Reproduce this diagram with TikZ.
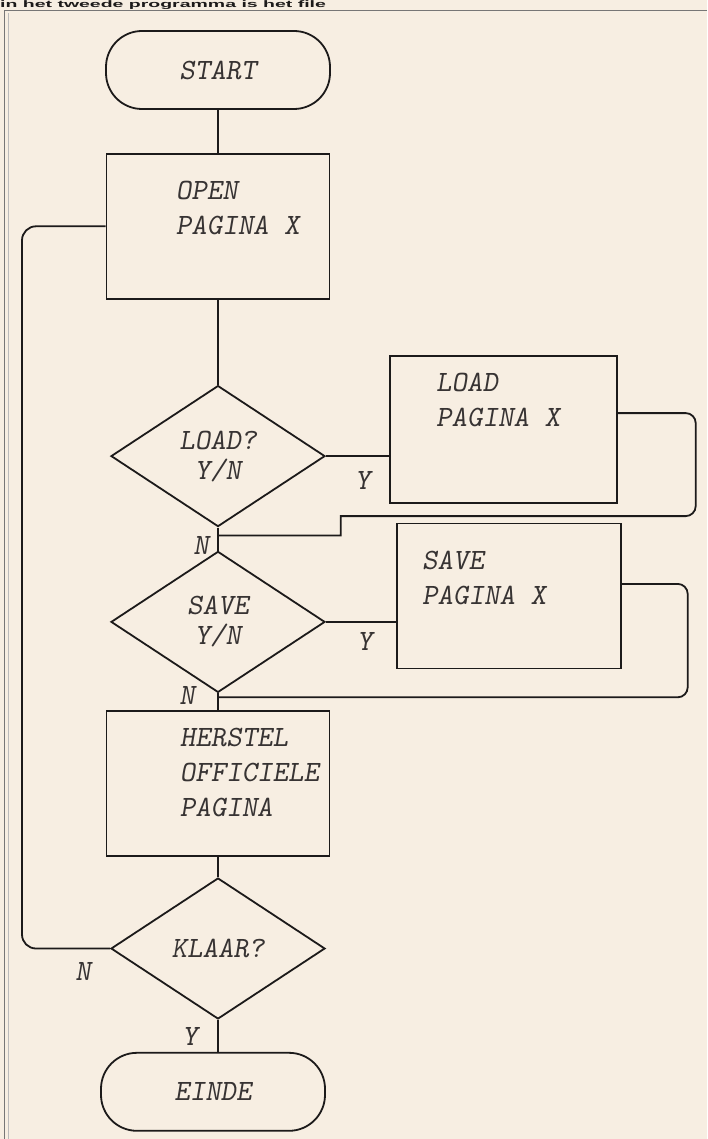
\documentclass[tikz,border=0pt]{standalone}
\usepackage{fontspec}
\usetikzlibrary{positioning,shapes.geometric}
\newfontfamily\headfont{Liberation Sans}
\definecolor{paper}{RGB}{247,238,226}
\definecolor{ink}{RGB}{28,26,26}
\definecolor{pencil}{RGB}{55,51,51}

\begin{document}
\begin{tikzpicture}[
    x=1pt, y=-1pt,
    hand/.style={font=\fontsize{29.5}{35}\selectfont\ttfamily\slshape, text=pencil},
    termbox/.style={rectangle, rounded corners=36pt, draw=ink, line width=1.8pt,
                    minimum width=224pt, minimum height=78pt, inner sep=0pt, hand},
    procbox/.style={rectangle, draw=ink, line width=1.8pt,
                    minimum width=223pt, minimum height=145pt, inner sep=0pt},
    decbox/.style={diamond, aspect=1.5, draw=ink, line width=1.8pt, align=center,
                   minimum width=214pt, minimum height=141pt, inner sep=0pt,
                   text=pencil, font=\fontsize{29.5}{30}\selectfont\ttfamily\slshape},
    boxtext/.style={hand, anchor=north west, align=left, inner sep=0pt},
    yn/.style={hand},
    conn/.style={draw=ink, line width=1.8pt}
]
\useasboundingbox (0,0) rectangle (707,1139);
\fill[paper] (0,0) rectangle (707,1139);
\node[font=\headfont\bfseries\fontsize{9.5}{11}\selectfont, text=ink, anchor=base west, inner sep=0pt] (kop) at (0,7.5) {\scalebox{2.05}[1]{in het tweede programma is het file}};
\draw[ink!60, line width=0.7pt] (4,1139) -- (4,10.5) -- (707,10.5);
\draw[ink!30, line width=0.5pt] (8,1139) -- (8,13);

% hoofdlijn
\node[termbox] (start) at (218,70) {START};
\node[procbox, below=43pt of start] (open) {};
\node[decbox, below=85pt of open] (load) {LOAD?\\Y/N};
\node[decbox, below=23pt of load] (save) {SAVE\\Y/N};
\node[procbox, below=17pt of save] (herstel) {};
\node[decbox, below=20pt of herstel] (klaar) {KLAAR?};
\node[termbox, below=32pt of klaar, xshift=-5pt] (einde) {EINDE};

% zijtakken
\node[procbox, right=63pt of load, yshift=27pt, minimum width=227pt, minimum height=147pt] (loadbox) {};
\node[procbox, right=70pt of save, yshift=26pt, minimum width=224pt] (savebox) {};

% teksten in de blokken
\node[boxtext] (opentxt) at ([xshift=70pt,yshift=-28pt]open.north west) {OPEN\\PAGINA X};
\node[boxtext] (loadtxt) at ([xshift=47pt,yshift=-18pt]loadbox.north west) {LOAD\\PAGINA X};
\node[boxtext] (savetxt) at ([xshift=26pt,yshift=-28pt]savebox.north west) {SAVE\\PAGINA X};
\node[boxtext] (herstxt) at ([xshift=74pt,yshift=-18pt]herstel.north west) {HERSTEL\\OFFICIELE\\PAGINA};

\coordinate[below=8pt of load.south] (jload);
\coordinate[below=4pt of save.south] (jsave);
\coordinate (loopx) at (22,0);

\draw[conn] (start) -- (open);
\draw[conn] (open) -- (load);
\draw[conn] (load) -- (save);
\draw[conn] (save) -- (herstel);
\draw[conn] (herstel) -- (klaar);
\draw[conn] (klaar.south) -- (klaar.south |- einde.north);
\draw[conn] (load.east) -- (load.east -| loadbox.west);
\draw[conn] (save.east) -- (save.east -| savebox.west);
\draw[conn, rounded corners=10pt] ([yshift=16pt]loadbox.east) -- ++(78,0) -- ++(0,103) [sharp corners] -- ++(-355,0) |- (jload);
\draw[conn, rounded corners=10pt] ([yshift=12pt]savebox.east) -- ++(66,0) |- (jsave);
\draw[conn, rounded corners=14pt] (klaar.west) -- (klaar.west -| loopx) -- (open.west -| loopx) -- (open.west);

% labels
\node[yn] (loady) at ([xshift=37pt,yshift=-24pt]load.east) {Y};
\node[yn] (savey) at ([xshift=39pt,yshift=-20pt]save.east) {Y};
\node[yn] (loadn) at ([xshift=-17pt,yshift=-18pt]load.south) {N};
\node[yn] (saven) at ([xshift=-31pt,yshift=-2pt]save.south) {N};
\node[yn] (klaarn) at ([xshift=-27pt,yshift=-23pt]klaar.west) {N};
\node[yn] (klaary) at ([xshift=-28pt,yshift=-17pt]klaar.south) {Y};
\end{tikzpicture}
\end{document}
